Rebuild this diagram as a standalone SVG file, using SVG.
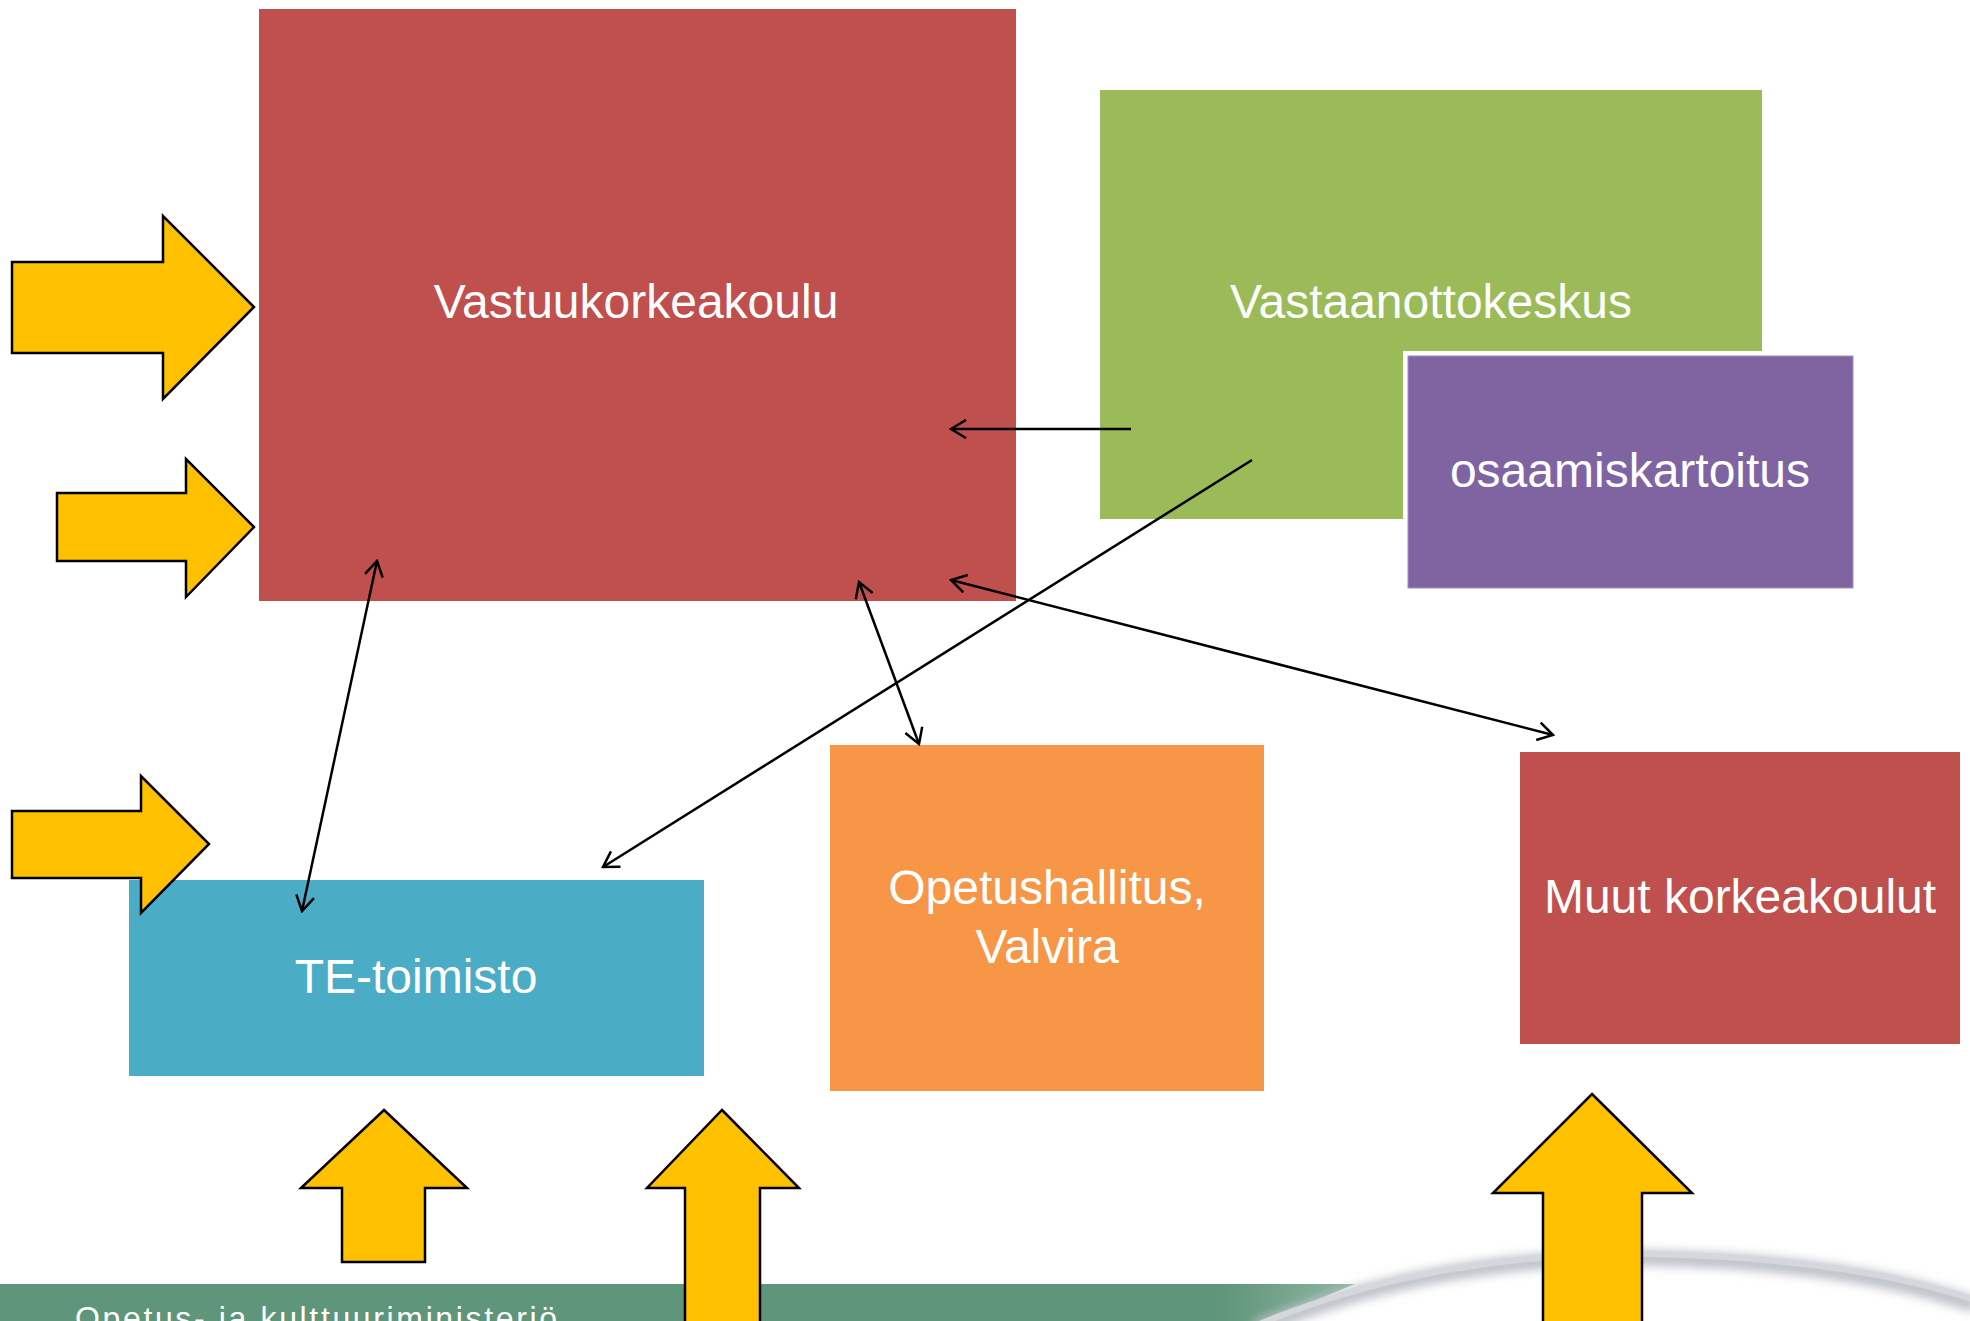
<svg xmlns="http://www.w3.org/2000/svg" width="1970" height="1321" viewBox="0 0 1970 1321">
<style>
.lbl{font-family:"Liberation Sans",Arial,sans-serif;font-size:48px;fill:#ffffff;text-anchor:middle}
.ya{fill:#ffc000;stroke:#000;stroke-width:2.5;stroke-linejoin:miter}
.con{stroke:#000;stroke-width:2.5;fill:none}
</style>
<defs>
<marker id="ah" viewBox="0 0 20 20" refX="18" refY="10" markerWidth="20" markerHeight="20" markerUnits="userSpaceOnUse" orient="auto-start-reverse">
<path d="M3,1 L18,10 L3,19" fill="none" stroke="#000" stroke-width="2.5"/>
</marker>
<linearGradient id="band" x1="0" y1="0" x2="1" y2="0">
<stop offset="0" stop-color="#5f957a"/>
<stop offset="0.9" stop-color="#5f957a"/>
<stop offset="1" stop-color="#8fb6a2"/>
</linearGradient>
<filter id="blur" x="-10%" y="-50%" width="120%" height="200%"><feGaussianBlur stdDeviation="5"/></filter>
</defs>
<rect width="1970" height="1321" fill="#ffffff"/>
<g id="footer">
<polygon points="0,1284 1355,1284 1265,1321 0,1321" fill="url(#band)"/>
<path d="M1255 1330 Q1430 1255 1650 1258 Q1850 1262 1975 1305" fill="none" stroke="#bfc4cb" stroke-width="16" filter="url(#blur)"/>
<path d="M1255 1326 Q1430 1252 1650 1254 Q1850 1258 1975 1300" fill="none" stroke="#d4d8dd" stroke-width="6"/>
<text x="75" y="1329" font-family="'Liberation Sans',Arial,sans-serif" font-size="32" fill="#ffffff" textLength="482">Opetus- ja kulttuuriministeriö</text>
</g>
<g id="vastuukorkeakoulu">
<rect x="259" y="9" width="757" height="592" fill="#c0504d"/>
<text class="lbl" x="636" y="318">Vastuukorkeakoulu</text>
</g>
<g id="vastaanottokeskus">
<rect x="1100" y="90" width="662" height="429" fill="#9bbb59"/>
<text class="lbl" x="1431" y="318">Vastaanottokeskus</text>
</g>
<g id="osaamiskartoitus">
<rect x="1403" y="351" width="455" height="242" fill="#ffffff"/>
<rect x="1408" y="356" width="445" height="232" fill="#8064a2" stroke="#a08cbe" stroke-width="1"/>
<text class="lbl" x="1630" y="487">osaamiskartoitus</text>
</g>
<g id="te-toimisto">
<rect x="129" y="880" width="575" height="196" fill="#4bacc6"/>
<text class="lbl" x="416" y="993">TE-toimisto</text>
</g>
<g id="opetushallitus">
<rect x="830" y="745" width="434" height="346" fill="#f79646"/>
<text class="lbl" x="1047" y="904">Opetushallitus,</text>
<text class="lbl" x="1047" y="963">Valvira</text>
</g>
<g id="muut-korkeakoulut">
<rect x="1520" y="752" width="440" height="292" fill="#c0504d"/>
<text class="lbl" x="1740" y="913">Muut korkeakoulut</text>
</g>
<g id="input-arrows">
<polygon class="ya" points="12,262 163,262 163,216 254,307 163,399 163,353 12,353"/>
<polygon class="ya" points="57,493 186,493 186,459 254,527 186,597 186,561 57,561"/>
<polygon class="ya" points="12,811 141,811 141,776 209,844 141,913 141,878 12,878"/>
<polygon class="ya" points="384,1110 467,1188 425,1188 425,1262 342,1262 342,1188 301,1188"/>
<polygon class="ya" points="722,1110 799,1188 760,1188 760,1325 685,1325 685,1188 647,1188"/>
<polygon class="ya" points="1592,1094 1692,1193 1642,1193 1642,1325 1543,1325 1543,1193 1493,1193"/>
</g>
<g id="connectors">
<line class="con" x1="1131" y1="429" x2="951" y2="429" marker-end="url(#ah)"/>
<line class="con" x1="1252" y1="460" x2="603" y2="867" marker-end="url(#ah)"/>
<line class="con" x1="377" y1="561" x2="302" y2="911" marker-start="url(#ah)" marker-end="url(#ah)"/>
<line class="con" x1="859" y1="582" x2="919" y2="744" marker-start="url(#ah)" marker-end="url(#ah)"/>
<line class="con" x1="951" y1="580" x2="1553" y2="735" marker-start="url(#ah)" marker-end="url(#ah)"/>
</g>
</svg>
